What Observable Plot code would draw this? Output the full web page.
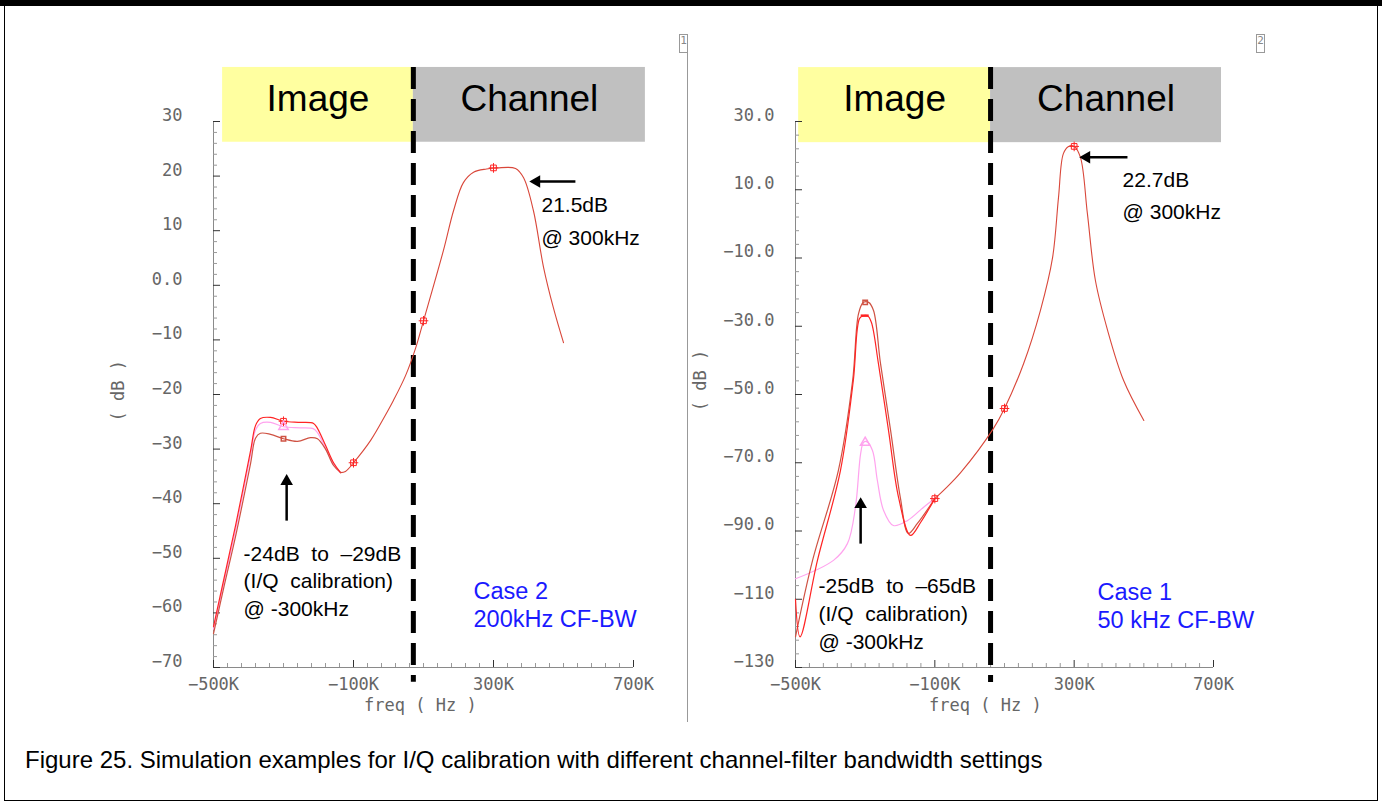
<!DOCTYPE html>
<html><head><meta charset="utf-8">
<script src="https://cdn.jsdelivr.net/npm/d3@7"></script>
<script src="https://cdn.jsdelivr.net/npm/@observablehq/plot@0.6"></script>
<style>
body{margin:0;background:#fff;}
#page{position:relative;width:1382px;height:805px;overflow:hidden;font-family:"Liberation Sans",Arial,sans-serif;background:#fff;}
#topbar{position:absolute;left:0;top:0;width:1382px;height:6px;background:#000;}
#frame{position:absolute;left:4px;top:0;width:1372px;height:800px;border-left:1.5px solid #000;border-right:1.5px solid #000;border-bottom:1.5px solid #000;}
#divider{position:absolute;left:687px;top:52px;width:1px;height:670px;background:#999;}
.tag{position:absolute;top:34px;width:7px;height:17px;border:1px solid #999;font:11px "DejaVu Sans Mono",monospace;color:#888;text-align:center;line-height:11px;}
.panel{position:absolute;top:0;}
#caption{position:absolute;left:25px;top:746px;font-size:24px;color:#000;white-space:nowrap;}
svg text{white-space:pre;}
</style></head>
<body>
<div id="page">
  <div id="topbar"></div>
  <div id="frame"></div>
  <div id="divider"></div>
  <div class="tag" style="left:679px">1</div>
  <div class="tag" style="left:1256px">2</div>
  <div id="left" class="panel" style="left:0px"></div>
  <div id="right" class="panel" style="left:687px"></div>
  <div id="caption">Figure 25. Simulation examples for I/Q calibration with different channel-filter bandwidth settings</div>
</div>
<script>
// ---------------- shared axis data ----------------
const xTicks = [-500, -100, 300, 700];                 // kHz
const xTickLabels = ["−500K", "−100K", "300K", "700K"];
const boxNames = ["Image", "Channel"];

// ---------------- Case 2 (left panel), freq in kHz, level in dB ----------------
const c2YTicks = [30, 20, 10, 0, -10, -20, -30, -40, -50, -60, -70];
const c2YTickLabels = ["30", "20", "10", "0.0", "−10", "−20", "−30", "−40", "−50", "−60", "−70"];
const c2RedFreq   = [-500, -470, -437, -394, -380, -366, -337, -300, -251, -214, -203, -180, -157, -137];
const c2RedDb     = [-62.5, -53.7, -44.0, -30.3, -25.7, -24.4, -24.2, -24.9, -25.1, -25.3, -26.2, -29.3, -32.5, -34.3];
const c2PinkFreq  = [-500, -470, -437, -394, -380, -366, -337, -300, -251, -214, -203, -180, -157, -137];
const c2PinkDb    = [-63.0, -54.3, -44.8, -31.0, -26.5, -25.3, -25.1, -25.9, -26.1, -26.3, -27.0, -29.8, -32.8, -34.3];
const c2BrownFreq = [-500, -470, -437, -394, -380, -366, -337, -300, -260, -223, -203, -180, -157, -137];
const c2BrownDb   = [-63.8, -55.2, -46.0, -32.6, -28.0, -27.1, -27.3, -28.1, -28.6, -27.9, -28.1, -30.0, -33.0, -34.3];
const c2TailFreq  = [-137, -123, -100, -51, -9, 14, 49, 77, 100, 157, 186, 214, 243, 280, 311, 363, 386, 414, 443, 471, 500];
const c2TailDb    = [-34.3, -34.1, -32.5, -28.4, -23.8, -21.1, -16.5, -11.6, -6.5, 6.4, 13.7, 18.8, 20.7, 21.3, 21.5, 21.4, 19.7, 13.7, 3.3, -4.1, -10.5];
const c2MarkFreq  = [-300, -100, 100, 300];
const c2MarkDb    = [-24.9, -32.5, -6.5, 21.5];
const c2PinkMark  = [-300, -25.9];
const c2BrownMark = [-300, -28.1];

// ---------------- Case 1 (right panel) ----------------
const c1YTicks = [30, 10, -10, -30, -50, -70, -90, -110, -130];
const c1YTickLabels = ["30.0", "10.0", "−10.0", "−30.0", "−50.0", "−70.0", "−90.0", "−110", "−130"];
const c1BrownFreq = [-500, -451, -377, -336, -319, -305, -290, -276, -256, -227, -199, -176, -150, -100];
const c1BrownDb   = [-121, -98.6, -72.3, -45.9, -26.3, -23.0, -23.0, -25.4, -40.9, -60.5, -80.2, -90.7, -87.8, -80.5];
const c1RedFreq   = [-500, -487, -437, -371, -334, -316, -305, -293, -282, -262, -233, -204, -170, -141, -100];
const c1RedDb     = [-110, -121, -98.6, -72.3, -45.9, -27.7, -26.9, -26.9, -28.9, -40.9, -60.5, -80.2, -91.3, -87.5, -80.5];
const c1PinkFreq  = [-500, -391, -351, -328, -313, -305, -296, -279, -265, -247, -219, -178, -133, -100];
const c1PinkDb    = [-104, -98.6, -93.7, -83.1, -67.3, -64.1, -63.8, -66.4, -75.2, -84.0, -88.4, -86.9, -83.1, -80.5];
const c1TailFreq  = [-100, -69, -26, 68, 100, 155, 203, 238, 255, 269, 284, 300, 318, 338, 361, 396, 442, 500];
const c1TailDb    = [-80.5, -77.5, -72.9, -60.0, -54.1, -40.9, -25.4, -9.9, 7.7, 20.6, 22.7, 22.7, 19.5, 3.0, -16.6, -31.2, -45.9, -57.6];
const c1MarkFreq  = [-100, 100, 300];
const c1MarkDb    = [-80.5, -54.1, 22.7];
const c1RedMark   = [-300, -26.9];
const c1PinkMark  = [-300, -64.1];
const c1BrownMark = [-300, -23.0];

// ---------------- styles ----------------
const RED = "#ff2424", PINK = "#ffa3ee", BROWN = "#cf5243", TAIL = "#d9473a";
const YELLOW = "#ffffa0", GREY = "#c0c0c0", BLUE = "#1a1aff";
const MONO = "DejaVu Sans Mono, monospace", SANS = "Liberation Sans, Arial, sans-serif";

const rows = (f, d) => f.map((v, i) => ({f: v, db: d[i]}));

function makePanel(p) {
  const kx = 1200 / (p.W - p.ml - p.mr);                 // kHz per px
  const ky = (p.yMax - p.yMin) / (p.H - p.mt - p.mb);    // dB per px
  const yMinor = d3.range(p.yMin, p.yMax + 0.001, p.yMinorStep).filter(v => !p.yTicks.includes(v));
  const xMinor = d3.range(-500, 700.001, 40).filter(v => !xTicks.includes(v));
  const axisStroke = "#8a8a8a";
  const crv = "catmull-rom";
  const lineMarks = [
    Plot.line(rows(p.pinkF, p.pinkD), {x: "f", y: "db", stroke: PINK, strokeWidth: 1.2, curve: crv}),
    Plot.line(rows(p.brownF, p.brownD), {x: "f", y: "db", stroke: BROWN, strokeWidth: 1.2, curve: crv}),
    Plot.line(rows(p.redF, p.redD), {x: "f", y: "db", stroke: RED, strokeWidth: 1.2, curve: crv}),
    Plot.line(rows(p.tailF, p.tailD), {x: "f", y: "db", stroke: TAIL, strokeWidth: 1.1, curve: crv}),
  ];
  const markerMarks = [
    Plot.dot(rows(p.markF, p.markD), {x: "f", y: "db", symbol: "square", r: 3.2, stroke: RED, fill: "none", strokeWidth: 1}),
    Plot.dot(rows(p.markF, p.markD), {x: "f", y: "db", symbol: "plus", r: 3.2, stroke: RED, strokeWidth: 1}),
    Plot.dot([p.pinkMark], {x: d => d[0], y: d => d[1], symbol: "triangle", r: 3.5, stroke: PINK, fill: "none"}),
    Plot.dot([p.brownMark], {x: d => d[0], y: d => d[1], symbol: "square", r: 2.5, stroke: BROWN, fill: "none"}),
  ];
  if (p.redMark) markerMarks.push(Plot.ruleY([p.redMark], {y: d => d[1], x1: d => d[0] - 4 * kx, x2: d => d[0] + 4 * kx, stroke: RED, strokeWidth: 2.5}));
  return Plot.plot({
    width: p.W, height: p.H,
    marginLeft: p.ml, marginRight: p.mr, marginTop: p.mt, marginBottom: p.mb,
    x: {domain: [-500, 700], axis: null},
    y: {domain: [p.yMin, p.yMax], axis: null},
    style: {background: "transparent", overflow: "visible"},
    marks: [
      // Image / Channel boxes
      Plot.rect([0], {x1: p.boxFrom[0], x2: p.boxTo[0], y1: p.boxBottom, y2: p.boxTop, fill: YELLOW}),
      Plot.rect([0], {x1: p.boxFrom[1], x2: p.boxTo[1], y1: p.boxBottom, y2: p.boxTop, fill: GREY}),
      Plot.text(boxNames, {x: (d, i) => (p.boxFrom[i] + p.boxTo[i]) / 2, y: (p.boxTop + p.boxBottom) / 2, text: d => d,
        dy: -6, fontSize: 37, fontFamily: SANS, fill: "#000"}),
      // axes
      Plot.ruleX([-500], {y1: p.yMin, y2: p.yMax, stroke: axisStroke}),
      Plot.ruleY([p.yMin], {x1: -500, x2: 700, stroke: axisStroke}),
      Plot.ruleY(yMinor, {y: d => d, x1: -500, x2: -500 + 4 * kx, stroke: "#999"}),
      Plot.ruleY(p.yTicks, {y: d => d, x1: -500, x2: -500 + 7 * kx, stroke: "#333"}),
      Plot.ruleX(xMinor, {x: d => d, y1: p.yMin, y2: p.yMin + 4 * ky, stroke: "#999"}),
      Plot.ruleX(xTicks, {x: d => d, y1: p.yMin, y2: p.yMin + 7 * ky, stroke: "#333"}),
      Plot.text(p.yTicks, {x: -500, y: d => d, text: (d, i) => p.yTickLabels[i], dx: p.labelDx, dy: -6,
        textAnchor: "end", fontSize: 17, fontFamily: MONO, fill: "#666"}),
      Plot.text(xTicks, {x: d => d, y: p.yMin, text: (d, i) => xTickLabels[i], dy: 17,
        fontSize: 17, fontFamily: MONO, fill: "#666"}),
      Plot.text(["freq ( Hz )"], {x: p.xTitleAt, y: p.yMin, text: d => d, dy: 38, fontSize: 17, fontFamily: MONO, fill: "#666"}),
      Plot.text(["( dB )"], {x: -500, y: p.yTitleAt, text: d => d, dx: -95, rotate: -90, fontSize: 17, fontFamily: MONO, fill: "#666"}),
      // dashed image/channel boundary
      Plot.ruleX([p.boundary], {y1: p.boxTop, y2: p.dashBottom, stroke: "#000", strokeWidth: 5, strokeDasharray: "22,10"}),
      ...lineMarks,
      ...markerMarks,
      // arrows
      Plot.link([p.hArrow], {x1: d => d[0], x2: d => d[1], y1: d => d[2], y2: d => d[2], stroke: "#000", strokeWidth: 2.5}),
      Plot.dot([p.hArrow], {x: d => d[1], y: d => d[2], symbol: "triangle2", r: 6, fill: "#000", rotate: -90}),
      Plot.link([p.vArrow], {x1: d => d[0], x2: d => d[0], y1: d => d[1], y2: d => d[2], stroke: "#000", strokeWidth: 2.5}),
      Plot.dot([p.vArrow], {x: d => d[0], y: d => d[2], symbol: "triangle2", r: 6, fill: "#000"}),
      // annotations
      Plot.text([p.peakText], {x: p.peakTextAt[0], y: p.peakTextAt[1], text: d => d, textAnchor: "start",
        fontSize: 21, lineHeight: p.peakLH, fontFamily: SANS, fill: "#000"}),
      Plot.text([p.imgText], {x: p.imgTextAt[0], y: p.imgTextAt[1], text: d => d, textAnchor: "start",
        fontSize: 21, lineHeight: 1.32, fontFamily: SANS, fill: "#000"}),
      Plot.text([p.caseText], {x: p.caseTextAt[0], y: p.caseTextAt[1], text: d => d, textAnchor: "start",
        fontSize: 23.5, lineHeight: 1.19, fontFamily: SANS, fill: BLUE}),
    ]
  });
}

document.getElementById("left").append(makePanel({
  W: 686, H: 730, ml: 213, mr: 53, mt: 121, mb: 63,
  yMin: -70, yMax: 30, yMinorStep: 2, yTicks: c2YTicks, yTickLabels: c2YTickLabels, labelDx: -31,
  xTitleAt: 91, yTitleAt: -19.3,
  boxFrom: [-474, 71], boxTo: [71, 734], boxTop: 39.9, boxBottom: 26.2, boundary: 71, dashBottom: -72.7,
  redF: c2RedFreq, redD: c2RedDb, pinkF: c2PinkFreq, pinkD: c2PinkDb, brownF: c2BrownFreq, brownD: c2BrownDb,
  tailF: c2TailFreq, tailD: c2TailDb, markF: c2MarkFreq, markD: c2MarkDb, pinkMark: c2PinkMark, brownMark: c2BrownMark,
  hArrow: [534, 423, 19.0], vArrow: [-291, -43.1, -35.9],
  peakText: "21.5dB\n@ 300kHz", peakTextAt: [437, 12.3], peakLH: 1.57,
  imgText: "-24dB  to  –29dB\n(I/Q  calibration)\n@ -300kHz", imgTextAt: [-414, -53.9],
  caseText: "Case 2\n200kHz CF-BW", caseTextAt: [243, -58.4]
}));

document.getElementById("right").append(makePanel({
  W: 690, H: 730, ml: 108, mr: 164, mt: 121, mb: 63,
  yMin: -130, yMax: 30, yMinorStep: 4, yTicks: c1YTicks, yTickLabels: c1YTickLabels, labelDx: -21,
  xTitleAt: 45, yTitleAt: -45.9,
  boxFrom: [-491, 60], boxTo: [60, 723], boxTop: 45.8, boxBottom: 23.8, boundary: 60, dashBottom: -134.4,
  redF: c1RedFreq, redD: c1RedDb, pinkF: c1PinkFreq, pinkD: c1PinkDb, brownF: c1BrownFreq, brownD: c1BrownDb,
  tailF: c1TailFreq, tailD: c1TailDb, markF: c1MarkFreq, markD: c1MarkDb, pinkMark: c1PinkMark, brownMark: c1BrownMark,
  redMark: c1RedMark,
  hArrow: [453, 335.5, 19.5], vArrow: [-313, -93.7, -82.2],
  peakText: "22.7dB\n@ 300kHz", peakTextAt: [439, 9.2], peakLH: 1.52,
  imgText: "-25dB  to  –65dB\n(I/Q  calibration)\n@ -300kHz", imgTextAt: [-434, -113.8],
  caseText: "Case 1\n50 kHz CF-BW", caseTextAt: [367, -111.6]
}));
</script>
</body></html>
